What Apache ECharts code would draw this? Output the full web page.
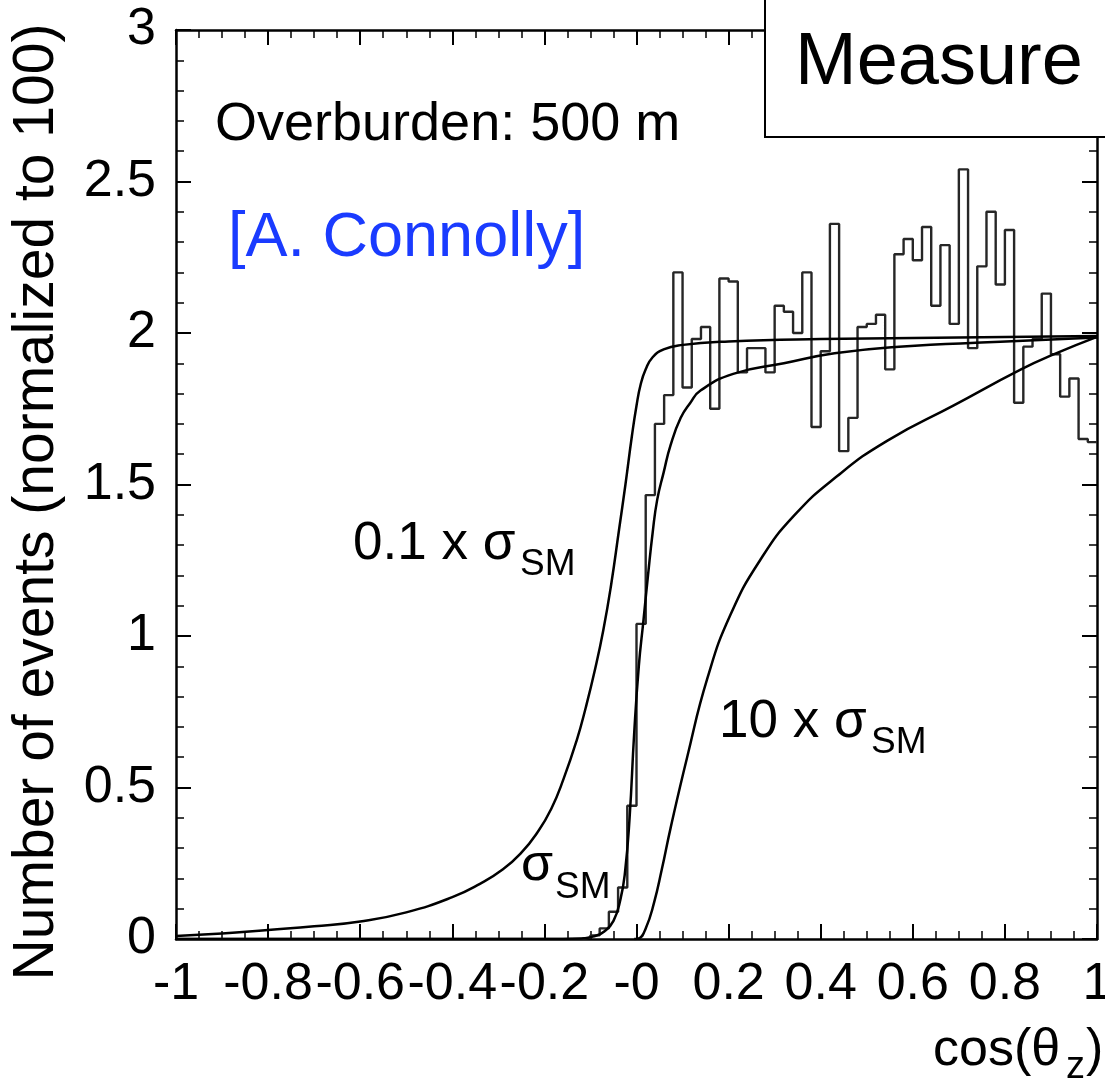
<!DOCTYPE html>
<html>
<head>
<meta charset="utf-8">
<script src="https://cdn.jsdelivr.net/npm/echarts@6/dist/echarts.min.js"></script>
<style>
html,body{margin:0;padding:0;background:#fff;overflow:hidden;width:1105px;height:1084px;}
#chart{width:1105px;height:1084px;}
</style>
</head>
<body>
<div id="chart"></div>
<script>
// ---------- data ----------
const xTickLabels = ['-1','-0.8','-0.6','-0.4','-0.2','-0','0.2','0.4','0.6','0.8','1'];
const yTickLabels = ['0','0.5','1','1.5','2','2.5','3'];

// histogram: 100 bins of width 0.02 from -1 to 1 (sigma_SM simulated events)
const histStart = -1;
const histWidth = 0.02;
const histValues = [
  0,0,0,0,0,0,0,0,0,0,
  0,0,0,0,0,0,0,0,0,0,
  0,0,0,0,0,0,0,0,0,0,
  0,0,0,0,0,0,0,0,0,0,
  0,0,0,0,
  0.005,0.012,0.035,0.09,0.17,0.44,
  1.04,1.465,
  1.70,1.795,2.20,1.82,1.98,2.02,1.75,2.18,2.17,1.87,
  1.95,1.95,1.87,2.09,2.07,2.00,2.20,1.69,1.94,2.36,
  1.61,1.72,2.02,2.03,2.06,1.88,2.26,2.31,2.24,2.35,
  2.09,2.29,2.03,2.54,1.95,2.22,2.40,2.16,2.34,1.77,
  1.955,1.98,2.13,1.93,1.79,1.85,1.65,1.64
];

// 0.1 x sigma_SM curve
const curve01 = [
  [-1,0.01],[-0.9,0.018],[-0.8,0.03],[-0.7,0.042],[-0.6,0.058],[-0.5,0.088],
  [-0.4,0.138],[-0.34,0.182],[-0.29,0.23],[-0.25,0.285],[-0.216,0.35],[-0.185,0.43],
  [-0.158,0.53],[-0.13,0.655],[-0.11,0.765],[-0.09,0.89],[-0.072,1.02],[-0.055,1.17],
  [-0.038,1.35],[-0.024,1.5],[-0.01,1.66],[0.0,1.76],[0.009,1.83],[0.02,1.88],
  [0.035,1.92],[0.059,1.946],[0.096,1.96],[0.2,1.972],[0.4,1.98],[0.7,1.985],[1.0,1.99]
];

// sigma_SM curve
const curveSM = [
  [-1,0.0],[-0.2,0.0],[-0.12,0.002],[-0.09,0.01],[-0.07,0.025],[-0.05,0.06],
  [-0.035,0.13],[-0.025,0.22],[-0.015,0.4],[-0.005,0.68],[0.005,0.9],[0.015,1.05],
  [0.025,1.2],[0.035,1.34],[0.045,1.45],[0.059,1.54],[0.074,1.63],[0.096,1.72],
  [0.117,1.77],[0.139,1.81],[0.21,1.865],[0.32,1.9],[0.43,1.933],[0.57,1.955],
  [0.79,1.971],[1.0,1.985]
];

// 10 x sigma_SM curve
const curve10 = [
  [-0.005,0.0],[0.005,0.002],[0.02,0.035],[0.038,0.119],[0.055,0.23],[0.074,0.366],
  [0.11,0.6],[0.154,0.861],[0.204,1.07],[0.27,1.254],[0.342,1.397],[0.436,1.528],
  [0.545,1.645],[0.69,1.762],[0.835,1.88],[0.907,1.93],[1.0,1.987]
];

// ---------- chart ----------
const histData = histValues.map((v, i) => [histStart + i * histWidth, v]);
histData.push([histStart + histValues.length * histWidth, histValues[histValues.length - 1]]);

const FONT = '"Liberation Sans", Arial, Helvetica, sans-serif';
const axisCommon = {
  type: 'value',
  axisLine: {show: true, onZero: false, lineStyle: {color: '#000', width: 2.5}},
  axisTick: {show: true, inside: true, length: 15, lineStyle: {color: '#000', width: 2}},
  minorTick: {show: true, length: 8, lineStyle: {color: '#000', width: 1.5}},
  splitLine: {show: false},
  minorSplitLine: {show: false}
};

const chart = echarts.init(document.getElementById('chart'), null, {renderer: 'canvas', width: 1105, height: 1084});

function txt(text, x, y, size, color, extra) {
  return Object.assign({
    type: 'text', x: x, y: y, z: 100,
    style: {text: text, fill: color || '#000', fontSize: size, fontFamily: FONT,
            align: 'left', verticalAlign: 'middle'}
  }, extra || {});
}

chart.setOption({
  animation: false,
  backgroundColor: '#fff',
  grid: {left: 176, right: 8, top: 30, bottom: 145, containLabel: false, outerBoundsMode: 'none'},
  xAxis: [
    Object.assign({}, axisCommon, {
      position: 'bottom', min: -1, max: 1, interval: 0.2,
      minorTick: Object.assign({}, axisCommon.minorTick, {splitNumber: 4}),
      axisLabel: {show: true, color: '#000', fontSize: 52, fontFamily: FONT, margin: 20,
        showMinLabel: true, showMaxLabel: true,
        formatter: v => xTickLabels[Math.round((v + 1) / 0.2)]}
    }),
    Object.assign({}, axisCommon, {
      position: 'top', min: -1, max: 1, interval: 0.2,
      minorTick: Object.assign({}, axisCommon.minorTick, {splitNumber: 4}),
      axisLabel: {show: false}
    })
  ],
  yAxis: [
    Object.assign({}, axisCommon, {
      position: 'left', min: 0, max: 3, interval: 0.5,
      minorTick: Object.assign({}, axisCommon.minorTick, {splitNumber: 5}),
      axisLabel: {show: true, color: '#000', fontSize: 52, fontFamily: FONT, margin: 20,
        showMinLabel: true, showMaxLabel: true,
        formatter: v => yTickLabels[Math.round(v / 0.5)]}
    }),
    Object.assign({}, axisCommon, {
      position: 'right', min: 0, max: 3, interval: 0.5,
      minorTick: Object.assign({}, axisCommon.minorTick, {splitNumber: 5}),
      axisLabel: {show: false}
    })
  ],
  series: [
    {type: 'line', name: 'sim', data: histData, step: 'end', showSymbol: false,
     xAxisIndex: 0, yAxisIndex: 0, lineStyle: {color: '#262626', width: 2.4}, z: 3},
    {type: 'line', name: '0.1', data: curve01, smooth: 0.5, showSymbol: false,
     lineStyle: {color: '#000', width: 2.5}, z: 4},
    {type: 'line', name: 'SM', data: curveSM, smooth: 0.5, showSymbol: false,
     lineStyle: {color: '#000', width: 2.5}, z: 4},
    {type: 'line', name: '10', data: curve10, smooth: 0.5, showSymbol: false,
     lineStyle: {color: '#000', width: 2.5}, z: 4}
  ],
  graphic: [
    txt('Overburden: 500 m', 215, 125, 54),
    txt('[A. Connolly]', 228, 239, 63, '#1a3bff'),
    txt('0.1 x \u03c3', 353, 544, 53),
    txt('SM', 520, 565, 37),
    txt('\u03c3', 521, 866, 52),
    txt('SM', 555, 888, 37),
    txt('10 x \u03c3', 719, 722, 53),
    txt('SM', 871, 743, 37),
    {type: 'rect', z: 110, shape: {x: 765, y: -5, width: 360, height: 142},
     style: {fill: '#fff', stroke: '#000', lineWidth: 2}},
    txt('Measure', 795, 64, 74, '#000', {z: 120}),
    {type: 'text', x: 37, y: 502, z: 100, rotation: Math.PI / 2,
     style: {text: 'Number of events (normalized to 100)', fill: '#000',
       fontSize: 57, fontFamily: FONT, align: 'center', verticalAlign: 'middle'}},
    txt('cos(\u03b8', 933, 1051, 52),
    txt('z', 1066, 1068, 38),
    txt(')', 1086, 1051, 52)
  ]
});
</script>
</body>
</html>
